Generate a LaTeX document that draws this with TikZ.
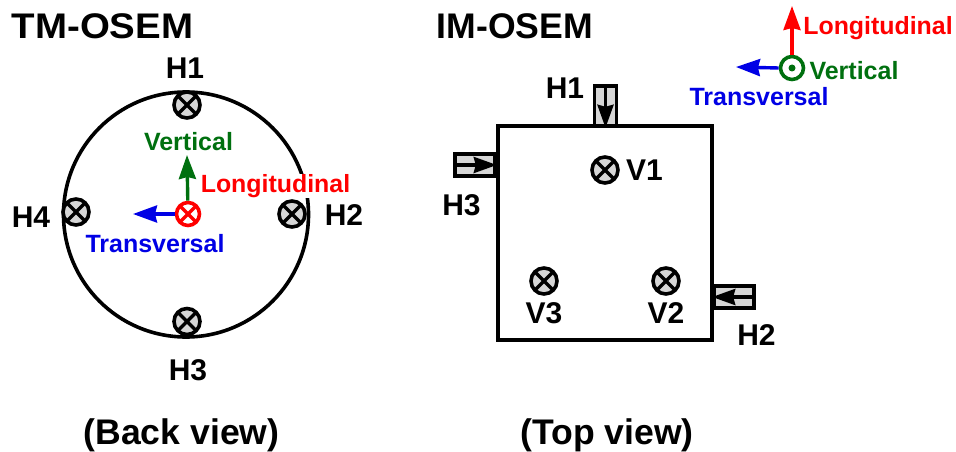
\documentclass[tikz,border=0pt]{standalone}
\usepackage{fontspec}
\setmainfont{Liberation Sans}
\usepackage{xcolor}
\usetikzlibrary{arrows.meta,positioning}
\definecolor{osemfill}{gray}{0.84}
\definecolor{axisgreen}{rgb}{0,0.44,0.06}
\definecolor{axisblue}{rgb}{0,0,0.9}

\begin{document}
\begin{tikzpicture}[
  x=1pt, y=-1pt,
  font=\bfseries,
  title/.style={font=\fontsize{35.6}{40}\selectfont\bfseries, inner sep=0pt},
  lab/.style={font=\fontsize{30}{34}\selectfont\bfseries, inner sep=0pt},
  axlab/.style={font=\fontsize{25}{28}\selectfont\bfseries, inner sep=0pt},
  longlab/.style={font=\fontsize{24.9}{28}\selectfont\bfseries, text=red, inner sep=0.5pt},
  sensor/.style={circle, draw, line width=3.6pt, fill=osemfill, minimum size=26pt, inner sep=0pt,
    path picture={\draw[line width=3.4pt] (path picture bounding box.north west) -- (path picture bounding box.south east)
      (path picture bounding box.north east) -- (path picture bounding box.south west);}},
  redsensor/.style={circle, draw=red, line width=3.6pt, fill=white, minimum size=23pt, inner sep=0pt,
    path picture={\draw[red, line width=3.4pt] (path picture bounding box.north west) -- (path picture bounding box.south east)
      (path picture bounding box.north east) -- (path picture bounding box.south west);}},
  vmark/.style={circle, draw=axisgreen, line width=3.6pt, fill=white, minimum size=23pt, inner sep=0pt},
  vdot/.style={circle, fill=axisgreen, minimum size=7pt, inner sep=0pt},
  hbox/.style={draw, line width=3.6pt, fill=osemfill, inner sep=0pt},
  body/.style={draw, line width=3.6pt, minimum size=214pt, inner sep=0pt},
  ring/.style={circle, draw, line width=3.6pt, minimum size=245pt, inner sep=0pt},
  arr/.style={-{Stealth[length=24pt, width=17pt, inset=2pt]}, line width=3.4pt},
  inarr/.style={-{Stealth[length=23pt, width=16pt, inset=2pt]}, line width=3.4pt}
]
\useasboundingbox (0,0) rectangle (956,452);
% back view
\node[title] (tmtitle) at (102.5,26) {\scalebox{1.08}[1]{TM-OSEM}};
\node[ring] (ring) at (186,214.5) {};
\node[longlab, fill=white] (tmlong) at (275.5,186) {Longitudinal};
\node[sensor] (tmhone) at (187,105) {};
\node[sensor] (tmhtwo) at (292,214) {};
\node[sensor] (tmhthree) at (187,321.5) {};
\node[sensor] (tmhfour) at (76,212) {};
\node[redsensor] (tmaxis) at (188,214) {};
\coordinate (tmvtip) at (187,155);
\coordinate (tmttip) at (133,214);
\draw[arr, axisgreen] (tmaxis) -- (tmvtip);
\draw[arr, axisblue] (tmaxis) -- (tmttip);
\node[axlab, text=axisgreen] (tmvert) at (188.5,142) {Vertical};
\node[axlab, text=axisblue] (tmtrans) at (155,244) {Transversal};
\node[lab] (lhone) at (185,68) {H1};
\node[lab] (lhtwo) at (344,215) {H2};
\node[lab] (lhthree) at (188,370) {H3};
\node[lab] (lhfour) at (31,217) {H4};
\node[title] (backview) at (181.5,435) {(Back view)};
% top view
\node[title] (imtitle) at (515,26) {IM-OSEM};
\node[hbox, minimum width=22pt, minimum height=40pt] (imhone) at (605.5,106) {};
\node[hbox, minimum width=40pt, minimum height=22pt] (imhthree) at (475,165) {};
\node[hbox, minimum width=40pt, minimum height=22pt] (imhtwo) at (734,297) {};
\draw[inarr] (imhone.north) -- (imhone.south);
\draw[inarr] (imhthree.west) -- (imhthree.east);
\draw[inarr] (imhtwo.east) -- (imhtwo.west);
\node[body] (body) at (605,233) {};
\node[sensor] (vone) at (605,170) {};
\node[sensor] (vtwo) at (666,281) {};
\node[sensor] (vthree) at (544,281) {};
\node[lab, right=6pt of vone] (lvone) {V1};
\node[lab] (lvtwo) at (666,313) {V2};
\node[lab] (lvthree) at (544,313) {V3};
\node[lab] (limhone) at (565,88) {H1};
\node[lab] (limhtwo) at (756.5,335) {H2};
\node[lab] (limhthree) at (461.5,205) {H3};
\node[vmark] (imaxis) at (792,68) {};
\node[vdot] (imdot) at (792,68) {};
\coordinate (imltip) at (792,6);
\coordinate (imttip) at (736,67);
\draw[arr, red] (imaxis) -- (imltip);
\draw[arr, axisblue] (imaxis.west) -- (imttip);
\node[longlab] (imlong) at (878,28) {Longitudinal};
\node[axlab, text=axisgreen] (imvert) at (854,71) {Vertical};
\node[axlab, text=axisblue] (imtrans) at (759,97) {Transversal};
\node[title] (topview) at (607,435) {(Top view)};
\end{tikzpicture}
\end{document}
